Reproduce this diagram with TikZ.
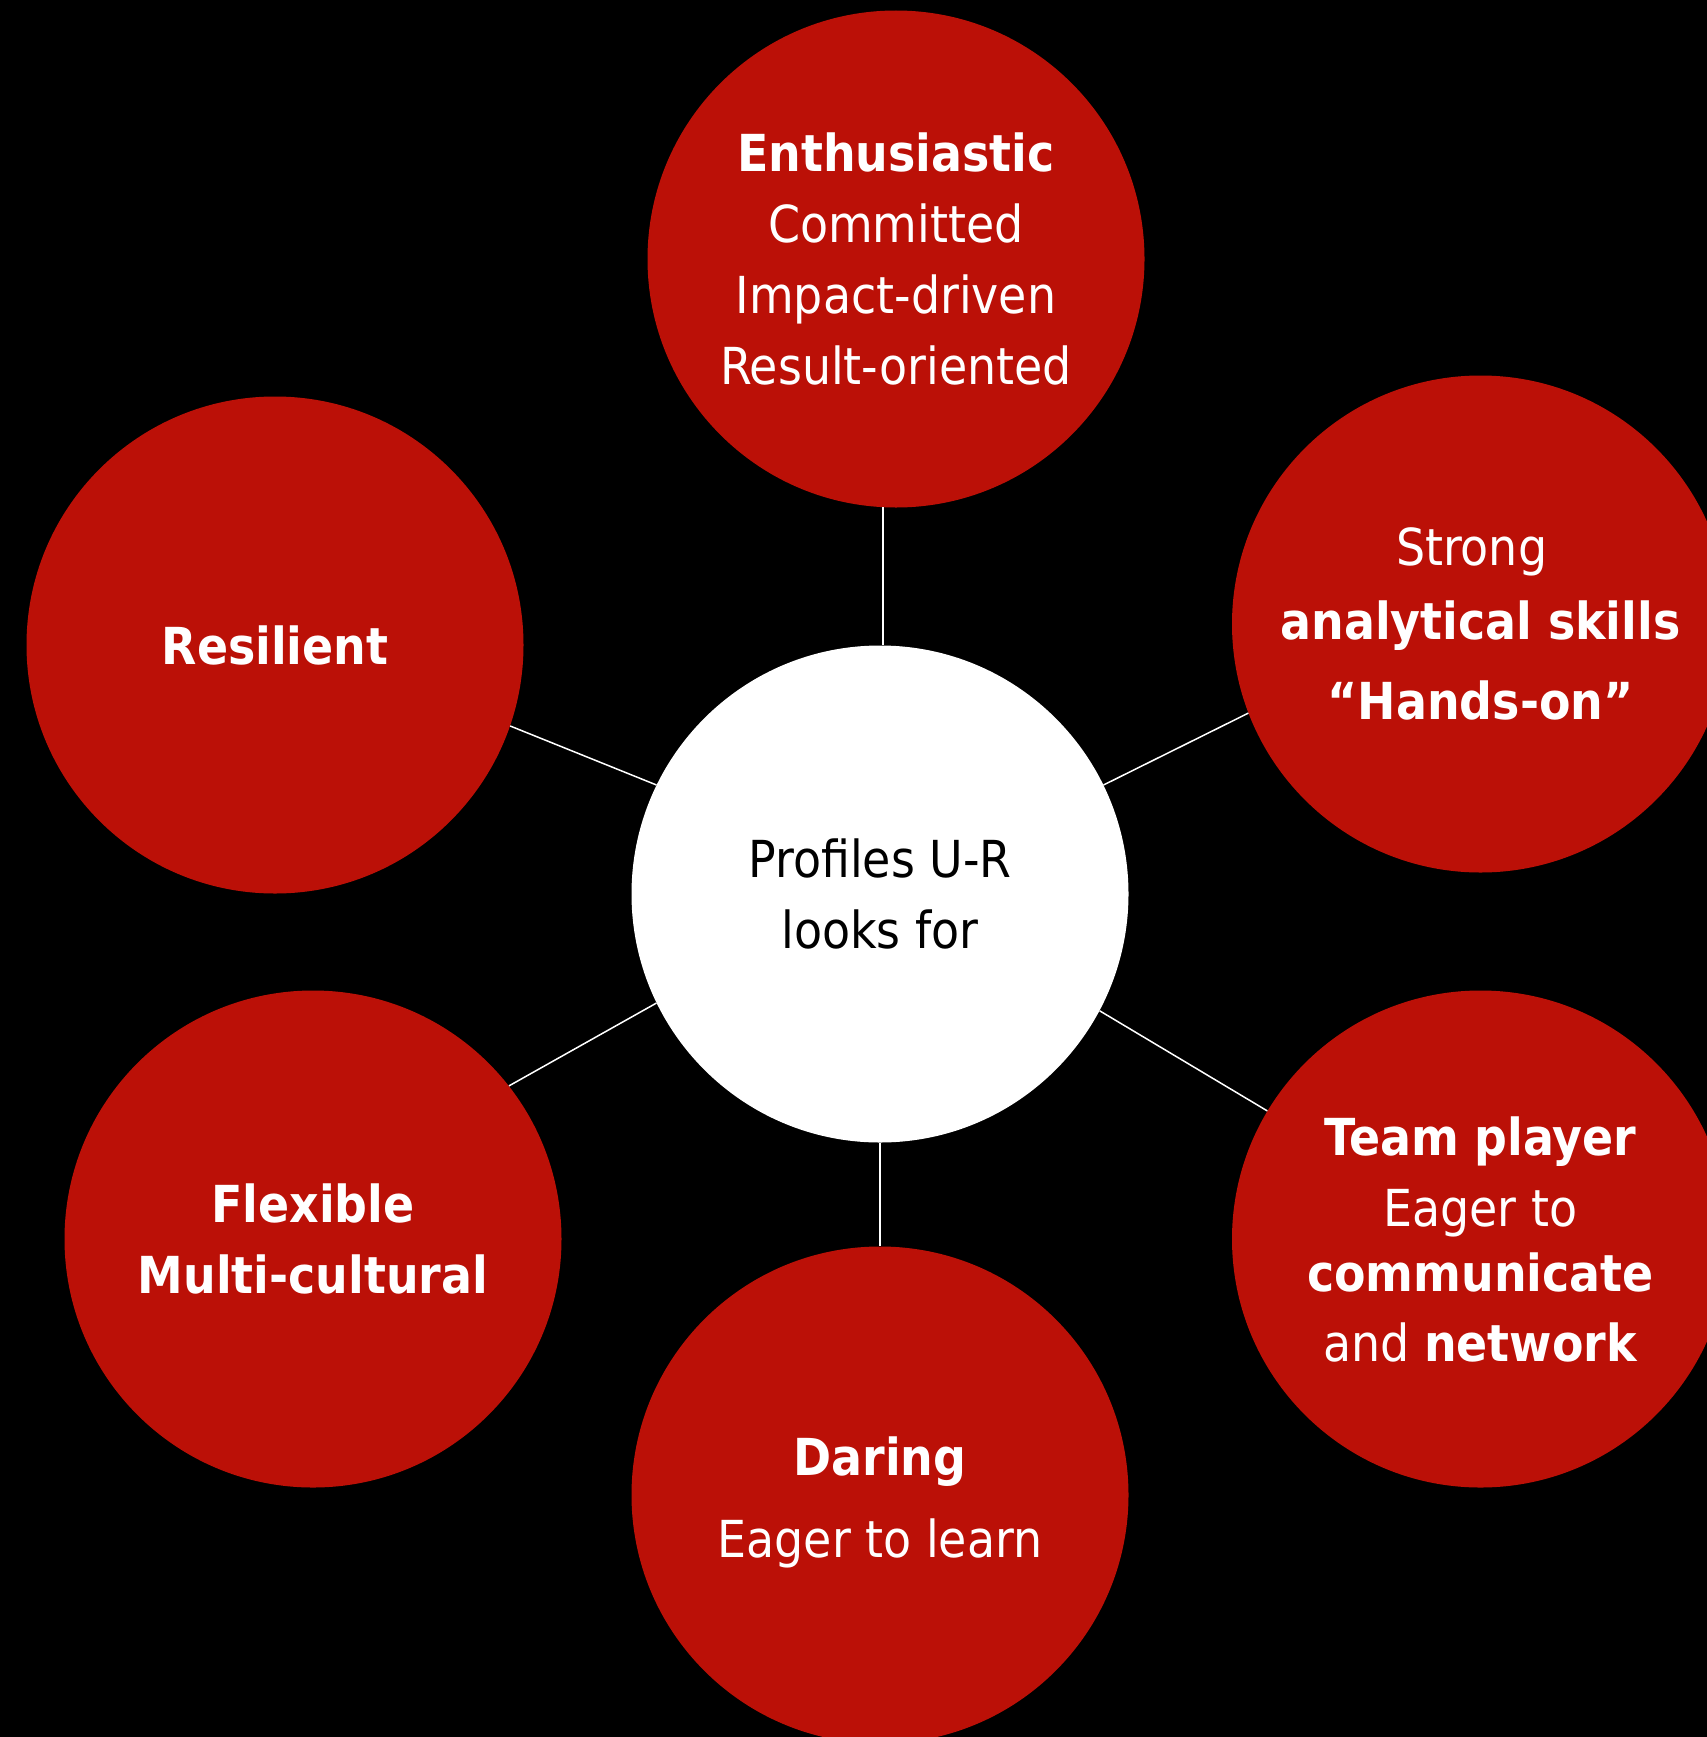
\documentclass[tikz,border=0pt]{standalone}
\usepackage{fontspec}
\setmainfont{DejaVu Sans Condensed}
\definecolor{bubblered}{RGB}{187,16,7}
\begin{document}
\begin{tikzpicture}[x=1pt,y=-1pt,
  bubble/.style={circle, fill=bubblered, minimum size=497pt, inner sep=0pt},
  hub/.style={circle, fill=white, minimum size=497pt, inner sep=0pt},
  words/.style={text=white, align=center, inner sep=0pt,
                font=\fontsize{51}{71}\selectfont},
  hubwords/.style={words, text=black},
  spoke/.style={draw=white, line width=1.5pt}]
  % black page
  \fill[black] (0,0) rectangle (1707,1737);
  \useasboundingbox (0,0) rectangle (1707,1737);
  \clip (0,0) rectangle (1707,1737);

  % central circle and the six qualities around it
  \node[hub]    (hub)    at (880,894)    {};
  \node[bubble] (top)    at (896,259)    {};
  \node[bubble] (skills) at (1480.5,624) {};
  \node[bubble] (resil)  at (275,645)    {};
  \node[bubble] (flex)   at (313,1239)   {};
  \node[bubble] (team)   at (1480.5,1239){};
  \node[bubble] (daring) at (880,1495)   {};

  % spokes
  \draw[spoke] (top.267.7) -- (top.267.7 |- hub.north);
  \draw[spoke] (hub.26.8)  -- (skills.201.8);
  \draw[spoke] (hub.154.9) -- (resil.-19.8);
  \draw[spoke] (hub.206.3) -- (flex.38.5);
  \draw[spoke] (hub.-28.8) -- (team.149.7);
  \draw[spoke] (hub.270)   -- (daring.90);

  % texts
  \node[hubwords] (hubtext) at (hub.center) {Profiles U-R\\looks for};
  \node[words] (toptext) at (top.center)
    {\bfseries Enthusiastic\\Committed\\Impact-driven\\Result-oriented};
  \node[words] (skillstext) at (skills.center)
    {Strong\hspace*{0.35em}\\[3pt]\bfseries analytical skills\\[9pt]\bfseries “Hands-on”};
  \node[words] (resiltext) at (resil.center) {\bfseries Resilient};
  \node[words] (flextext) at (flex.center)
    {\bfseries Flexible\\\bfseries Multi-cultural};
  \node[words] (teamtext) at (team.center)
    {\bfseries Team player\\Eager to\hspace*{0.35em}\\[-6pt]\bfseries communicate\\[-1pt]and \textbf{network}};
  \node[words, yshift=-7.5pt] (daringtext) at (daring.center)
    {\bfseries Daring\\[11pt]Eager to learn};
\end{tikzpicture}
\end{document}
